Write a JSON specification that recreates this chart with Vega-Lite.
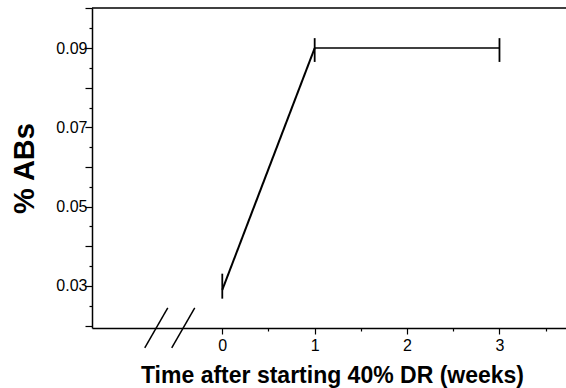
{
  "$schema": "https://vega.github.io/schema/vega-lite/v6.json",
  "width": 474,
  "height": 320,
  "autosize": {"type": "none"},
  "padding": {"left": 92, "top": 8, "right": 0, "bottom": 60},
  "background": "white",
  "config": {
    "view": {"stroke": null},
    "font": "Liberation Sans",
    "axis": {"grid": false, "domainColor": "black", "tickColor": "black", "labelColor": "black", "titleColor": "black", "domainWidth": 1.5, "tickWidth": 1.2, "labelFont": "Liberation Sans", "titleFont": "Liberation Sans"}
  },
  "datasets": {
    "points": [{"week": 0, "abs": 0.029}, {"week": 1, "abs": 0.09}],
    "caps": [{"week": 0, "abs": 0.0268, "hi": 0.0331}, {"week": 1, "abs": 0.0865, "hi": 0.0925}, {"week": 3, "abs": 0.0865, "hi": 0.0925}],
    "range": [{"week": 1, "end": 3, "abs": 0.09}],
    "breaks": [{"week": -0.839, "abs": 0.01437, "x2": -0.59, "y2": 0.02445}, {"week": -0.547, "abs": 0.01437, "x2": -0.298, "y2": 0.02445}],
    "frame": [{"abs": 0.1001}]
  },
  "encoding": {
    "x": {"field": "week", "type": "quantitative",
      "scale": {"domain": [-1.41, 3.72], "nice": false, "zero": false},
      "axis": {"values": [0, 0.5, 1, 1.5, 2, 2.5, 3, 3.5], "title": "Time after starting 40% DR (weeks)",
        "titleFontSize": 23, "titleFontWeight": "bold", "titleX": 240, "titleY": 54, "titleAlign": "center", "titleBaseline": "alphabetic",
        "labelFontSize": 16, "labelPadding": 3,
        "labelExpr": "datum.value % 1 == 0 ? format(datum.value, 'd') : ''",
        "tickSize": {"condition": {"test": "datum.value % 1 == 0", "value": 6}, "value": 3}}},
    "y": {"field": "abs", "type": "quantitative",
      "scale": {"domain": [0.0194, 0.1001], "nice": false, "zero": false},
      "axis": {"values": [0.02, 0.025, 0.03, 0.035, 0.04, 0.045, 0.05, 0.055, 0.06, 0.065, 0.07, 0.075, 0.08, 0.085, 0.09, 0.095, 0.1],
        "title": "% ABs", "titleFontSize": 29, "titleFontWeight": "bold", "titlePadding": 16,
        "labelFontSize": 16, "labelPadding": -2,
        "labelExpr": "abs(datum.value*100 - round(datum.value*100)) < 0.01 && round(datum.value*100) % 2 == 1 ? format(datum.value, '.2f') : ''",
        "tickSize": {"condition": {"test": "abs(datum.value*100 - round(datum.value*100)) < 0.01", "value": 7}, "value": 3}}}
  },
  "layer": [
    {
      "data": {"name": "points"},
      "mark": {"type": "line", "color": "black", "strokeWidth": 2}
    },
    {
      "data": {"name": "caps"},
      "mark": {"type": "rule", "color": "black", "strokeWidth": 1.8},
      "encoding": {"y2": {"field": "hi"}}
    },
    {
      "data": {"name": "range"},
      "mark": {"type": "rule", "color": "black", "strokeWidth": 1.5},
      "encoding": {"x2": {"field": "end"}}
    },
    {
      "data": {"name": "breaks"},
      "mark": {"type": "rule", "color": "black", "strokeWidth": 1.5},
      "encoding": {"x2": {"field": "x2"}, "y2": {"field": "y2"}}
    },
    {
      "data": {"name": "frame"},
      "mark": {"type": "rule", "color": "black", "strokeWidth": 1.5},
      "encoding": {"x": {"value": 0}, "x2": {"value": 474}}
    }
  ]
}
